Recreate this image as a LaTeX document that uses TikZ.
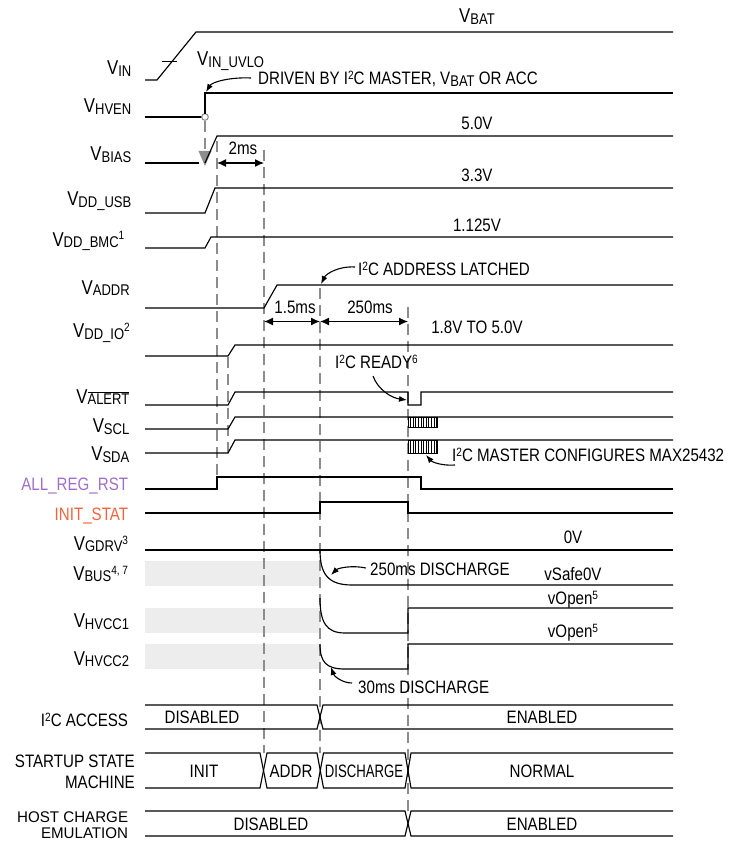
\documentclass[tikz,border=0pt]{standalone}
\usepackage{fontspec}
\setmainfont{Liberation Sans}[FakeStretch=0.84]
\usetikzlibrary{arrows.meta}
\definecolor{dashgrey}{RGB}{140,140,140}
\definecolor{lightshade}{RGB}{237,237,237}
\definecolor{regpurple}{RGB}{160,110,200}
\definecolor{initorange}{RGB}{240,100,60}
\newcommand{\bV}{{\fontsize{20}{20}\selectfont V}}
\newcommand{\msub}[1]{\raisebox{-1.5pt}{\fontsize{15.5}{15.5}\selectfont #1}}
\newcommand{\msig}[1]{\bV\msub{#1}}
\newcommand{\msup}[1]{\raisebox{6pt}{\fontsize{12}{12}\selectfont #1}}
\newcommand{\tsup}[1]{\raisebox{5pt}{\fontsize{12}{12}\selectfont #1}}
\newcommand{\ovl}[1]{\vbox{\hrule height 0.7pt\kern 1.2pt\hbox{#1}}}
\newcommand{\squash}[1]{\scalebox{1}[0.86]{#1}}
\begin{document}
\begin{tikzpicture}[x=1pt,y=-1pt,
  every node/.style={inner sep=0pt,font=\fontsize{18}{21}\selectfont},
  lab/.style={anchor=base east},
  txt/.style={anchor=base},
  txtw/.style={anchor=base west},
  sigl/.style={line width=1.15pt,black,line join=miter},
  thin/.style={line width=1pt,black},
  guide/.style={line width=1.8pt,dashgrey,dash pattern=on 11pt off 6pt},
  dim/.style={line width=1.2pt,{Latex[length=9pt,width=8pt]}-{Latex[length=9pt,width=8pt]}},
  ann/.style={line width=1.1pt,-{Latex[length=8pt,width=6pt]}},
  hatch/.style={line width=0.7pt,black}
]
\useasboundingbox (0,0) rectangle (728,842);

% ---------- shaded areas ----------
\fill[lightshade] (145,561) rectangle (320,586);
\fill[lightshade] (145,608) rectangle (320,633);
\fill[lightshade] (145,644) rectangle (320,669);

% ---------- dashed guide lines ----------
\draw[guide] (205,121) -- (205,152);
\fill[dashgrey] (198.5,151) -- (211.5,151) -- (205,166) -- cycle;
\draw[guide] (217,141) -- (217,477);
\draw[guide] (228,357) -- (228,453);
\draw[guide] (264,150) -- (264,753);
\draw[guide] (320,288) -- (320,753);
\draw[guide] (408,307) -- (408,811);

% ---------- left labels ----------
\node[lab] (lvin) at (131.5,75) {\msig{IN}};
\node[lab] (lhven) at (131.5,112.7) {\msig{HVEN}};
\node[lab] (lbias) at (131.5,161) {\msig{BIAS}};
\node[lab] (lusb) at (131.5,206) {\msig{DD\_USB}};
\node[lab] (lbmc) at (124.5,246) {\msig{DD\_BMC}\msup{1}};
\node[lab] (laddr) at (130,294) {\msig{ADDR}};
\node[lab] (lio) at (130,337.5) {\msig{DD\_IO}\msup{2}};
\node[lab] (lalert) at (129.5,403) {\bV\msub{\ovl{ALERT}}};
\node[lab] (lscl) at (129.5,432.5) {\msig{SCL}};
\node[lab] (lsda) at (129.5,460.5) {\msig{SDA}};
\node[lab,text=regpurple] (lreg) at (128.3,490.5) {ALL\_REG\_RST};
\node[lab,text=initorange] (linit) at (128.3,520) {INIT\_STAT};
\node[lab] (lgdrv) at (128.3,550) {\msig{GDRV}\msup{3}};
\node[lab] (lbus) at (128.3,580) {\msig{BUS}\msup{4, 7}};
\node[lab] (lcc1) at (129.3,627.5) {\msig{HVCC1}};
\node[lab] (lcc2) at (129.3,665) {\msig{HVCC2}};
\node[lab] (lacc) at (128.3,726.5) {I\tsup{2}C ACCESS};
\node[lab] (lsm1) at (135,767) {STARTUP STATE};
\node[lab] (lsm2) at (135,788) {MACHINE};
\node[lab] (lhc1) at (128.3,822) {\squash{HOST CHARGE}};
\node[lab] (lhc2) at (128.3,838) {\squash{EMULATION}};

% ---------- signal waveforms ----------
% VIN
\draw[sigl] (145,80) -- (157,80) -- (196,32) -- (673,32);
\draw[thin] (162,62) -- (177,62);
% VHVEN
\draw[sigl] (145,117) -- (201.7,117);
\draw[line width=1pt,dashgrey,fill=white] (205,117) circle (3.3);
\draw[sigl] (205,113.7) -- (205,93) -- (673,93);
% VBIAS
\draw[sigl] (145,163) -- (199,163);
\draw[sigl] (205,163) -- (217,136) -- (673,136);
% VDD_USB
\draw[sigl] (145,213) -- (205,213) -- (215,188) -- (673,188);
% VDD_BMC
\draw[sigl] (145,248) -- (205,248) -- (211,237) -- (673,237);
% VADDR
\draw[sigl] (145,308) -- (264,308) -- (277,285) -- (673,285);
% VDD_IO
\draw[sigl] (145,356) -- (228,356) -- (235,345) -- (673,345);
% VALERT
\draw[sigl] (145,405) -- (228,405) -- (235,392) -- (408,392) -- (408,405) -- (421,405) -- (421,392) -- (673,392);
% VSCL
\draw[sigl] (145,429) -- (228,429) -- (235,417) -- (673,417);
\draw[hatch] (408,417) rectangle (437,427);
\foreach \i in {0,...,11} {\draw[hatch] ({408+2.6*\i},417) -- ({408+2.6*\i},427);}
% VSDA
\draw[sigl] (145,453) -- (228,453) -- (235,440) -- (673,440);
\draw[hatch] (408,440) rectangle (437,453);
\foreach \i in {0,...,11} {\draw[hatch] ({408+2.6*\i},440) -- ({408+2.6*\i},453);}
% ALL_REG_RST
\draw[sigl] (145,489) -- (217,489) -- (217,477) -- (421,477) -- (421,489) -- (673,489);
% INIT_STAT
\draw[sigl] (145,513) -- (320,513) -- (320,502) -- (408,502) -- (408,513) -- (673,513);
% VGDRV
\draw[sigl] (145,550) -- (673,550);
% VBUS
\draw[sigl] (320,550) .. controls (320,574) and (328,585) .. (352,585) -- (673,585);
% VHVCC1
\draw[sigl] (320,598) .. controls (320,622) and (326,633) .. (345,633) -- (408,633) -- (408,608) -- (673,608);
% VHVCC2
\draw[sigl] (320,644) .. controls (320,662) and (326,669) .. (345,669) -- (408,669) -- (408,644) -- (673,644);

% ---------- bus rows ----------
% I2C ACCESS
\draw[sigl] (145,705) -- (317,705) -- (323,729) -- (673,729);
\draw[sigl] (145,729) -- (317,729) -- (323,705) -- (673,705);
% STARTUP STATE MACHINE
\draw[sigl] (145,753) -- (260,753) -- (267,788) -- (317,788) -- (323.5,753) -- (405,753) -- (411,788) -- (673,788);
\draw[sigl] (145,788) -- (260,788) -- (267,753) -- (317,753) -- (323.5,788) -- (405,788) -- (411,753) -- (673,753);
% HOST CHARGE EMULATION
\draw[sigl] (145,811) -- (405,811) -- (411,836) -- (673,836);
\draw[sigl] (145,836) -- (405,836) -- (411,811) -- (673,811);

\node[txt] (acc1) at (202,723.5) {DISABLED};
\node[txt] (acc2) at (542,723.5) {ENABLED};
\node[txt] (sm1) at (204,777) {INIT};
\node[txt] (sm2) at (291,777) {ADDR};
\node[txt] (sm3) at (364,777) {\scalebox{0.87}[1]{DISCHARGE}};
\node[txt] (sm4) at (542,777) {NORMAL};
\node[txt] (hc1) at (271,830) {DISABLED};
\node[txt] (hc2) at (542,830) {ENABLED};

% ---------- dimension arrows ----------
\coordinate (d2a) at (217,163); \coordinate (d2b) at (264,163);
\coordinate (d15a) at (264,321.5); \coordinate (d15b) at (320,321.5);
\coordinate (d25b) at (408,321.5);
\draw[dim] (d2a) -- (d2b);
\draw[dim] (d15a) -- (d15b);
\draw[dim] (d15b) -- (d25b);
\node[txt] (t2ms) at (243,155) {2ms};
\node[txt] (t15) at (295,313) {1.5ms};
\node[txt] (t250) at (370,313) {250ms};

% ---------- value labels ----------
\node[txt] (vbat) at (477,23) {\msig{BAT}};
\node[txtw] (uvlo) at (197,66) {\msig{IN\_UVLO}};
\node[txtw] (drv) at (258,85) {DRIVEN BY I\tsup{2}C MASTER, V\msub{BAT} OR ACC};
\node[txt] (v50) at (477,130) {5.0V};
\node[txt] (v33) at (477,181.5) {3.3V};
\node[txt] (v1125) at (477,231.5) {1.125V};
\node[txtw] (latched) at (358,275) {I\tsup{2}C ADDRESS LATCHED};
\node[txt] (v18) at (477,333) {1.8V TO 5.0V};
\node[txtw] (ready) at (335,368) {I\tsup{2}C READY\tsup{6}};
\node[txtw] (master) at (452,461) {I\tsup{2}C MASTER CONFIGURES MAX25432};
\node[txt] (zero) at (573,543) {0V};
\node[txtw] (dis250) at (370,575) {250ms DISCHARGE};
\node[txt] (safe) at (573,580) {vSafe0V};
\node[txt] (open1) at (573,604) {vOpen\tsup{5}};
\node[txt] (open2) at (573,637) {vOpen\tsup{5}};
\node[txtw] (dis30) at (358,693) {30ms DISCHARGE};

% ---------- annotation arrows ----------
\coordinate (drvs) at (251,78); \coordinate (drvt) at (206,92);
\draw[ann] (drvs) .. controls (230,77) and (212,82) .. (drvt);
\coordinate (lats) at (355,267); \coordinate (latt) at (321,284);
\draw[ann] (lats) .. controls (338,266) and (326,274) .. (latt);
\coordinate (rdys) at (373,376); \coordinate (rdyt) at (407,400);
\draw[ann] (rdys) .. controls (378,390) and (392,398) .. (rdyt);
\coordinate (msts) at (455,465); \coordinate (mstt) at (426,455);
\draw[ann] (msts) .. controls (442,466) and (432,462) .. (mstt);
\coordinate (d25s) at (366,568); \coordinate (d25t) at (331,575);
\draw[ann] (d25s) .. controls (352,565) and (338,568) .. (d25t);
\coordinate (d30s) at (352,683); \coordinate (d30t) at (331,667);
\draw[ann] (d30s) .. controls (342,683) and (334,676) .. (d30t);
\end{tikzpicture}
\end{document}
